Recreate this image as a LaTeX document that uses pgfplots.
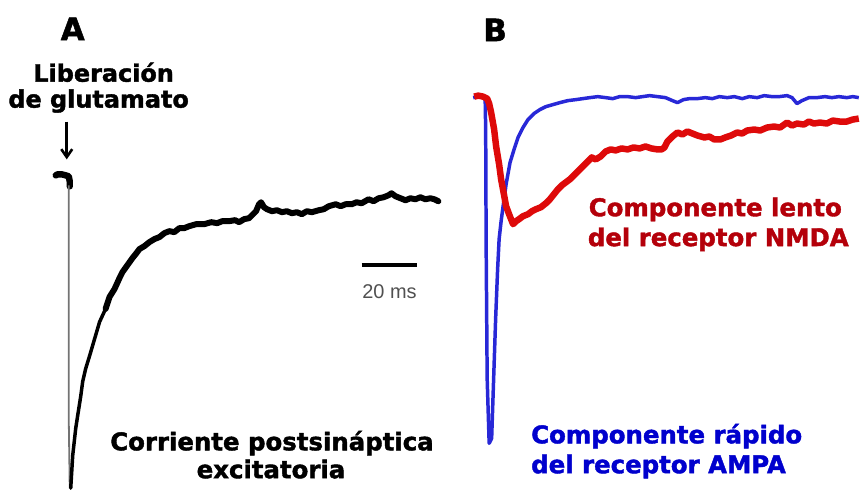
\documentclass[border=0pt]{standalone}
\usepackage{pgfplots}
\pgfplotsset{compat=1.18}
\usetikzlibrary{arrows.meta}
\usepackage{fontspec}
\setmainfont{DejaVu Sans}
\newfontfamily\heavy{DejaVu Sans Bold}[FakeBold=1.6]
\newfontfamily\scalefont{Liberation Sans}

\definecolor{tracered}{RGB}{222,10,10}
\definecolor{traceblue}{RGB}{40,40,215}
\definecolor{labelred}{RGB}{180,0,10}
\definecolor{labelblue}{RGB}{0,0,205}
\definecolor{scalegray}{RGB}{80,80,80}

\begin{document}
\begin{tikzpicture}
\begin{axis}[
  width=862bp, height=492bp, scale only axis,
  xmin=0, xmax=862, ymin=0, ymax=492, y dir=reverse,
  hide axis, clip=false,
]
\path (axis cs:0,0) rectangle (axis cs:862,492);

% panel A: glutamate release -> EPSC
\addplot[black, line width=6.5bp, line join=round, line cap=round] coordinates {
  (56,176)(58,175)(62,175)(66,176)(69,177)(70,182)(70,187)
};
\addplot[black!55, line width=1.8bp] coordinates {
  (69,186)(69,300)(69,420)(70,490)
};
\addplot[black, line width=3.5bp, line join=round, line cap=round] coordinates {
  (71,490)(73,457)(76,430)(78,417)(81,398)(83,383)(86,370)(90,357)(95,340)
  (100,323)(106,310)
};
\addplot[black, line width=6bp, line join=round, line cap=round] coordinates {
  (106,310)(110,298)(115,290)(120,279)(123,273)(128,266)(133,259)
  (137,254)(140,250)(145,247)(150,243)(155,240)(160,238)(165,234)(170,232)
  (175,233)(180,229)(185,229)(190,227)(197,225)(205,225)(212,223)(218,224)
  (223,222)(230,222)(236,221)(240,223)(245,220)(250,219)(253,216)(257,212)
  (260,205)(262,203)(265,208)(268,210)(273,212)(278,211)(283,213)(288,212)
  (293,214)(298,213)(303,215)(308,212)(313,213)(320,211)(325,210)(330,207)
  (337,205)(342,207)(347,205)(353,205)(358,203)(363,204)(370,200)(375,202)
  (380,199)(385,198)(390,196)(393,194)(397,197)(402,199)(407,201)(412,199)
  (417,200)(422,198)(427,200)(432,199)(436,200)(440,202)
};

% panel B: AMPA (fast) and NMDA (slow) components
\addplot[traceblue, line width=3.5bp, line join=round] coordinates {
  (475,98)(480,97)(485,98)(487,100)(487.5,130)(488,250)(489,380)(491,445)
  (493.5,440)(495.5,380)(497.5,320)(499.5,270)(501,240)(503,222)(505,207)(508,185)
  (512,163)(516,150)(520,138)(525,128)(530,120)(536,114)(542,110)(548,107)
  (555,105)(562,103)(570,101)(578,100)(585,99)(592,98)(600,97)(608,98)
  (615,99)(622,97)(630,97)(638,98)(645,97)(652,96)(660,97)(668,98)(675,101)
  (680,103)(686,100)(692,99)(700,99)(708,98)(715,99)(722,97)(730,98)(737,97)
  (745,99)(752,97)(760,98)(767,96)(775,97)(782,97)(790,96)(795,98)(800,104)
  (805,101)(812,98)(820,98)(828,97)(835,98)(842,97)(850,98)(856,97)(862,98)
};
\addplot[tracered, line width=6.5bp, line join=round] coordinates {
  (476,97)(480,96)(485,97)(489,99)(491,104)(493,113)(496,130)(498,147)
  (501,165)(503,180)(506,196)(508,207)(511,215)(513,220)(515,225)(518,222)
  (521,220)(525,217)(530,215)(534,212)(538,210)(543,208)(548,204)(552,200)
  (556,195)(560,190)(564,186)(568,183)(572,180)(576,176)(580,172)(585,167)
  (590,162)(594,158)(598,160)(603,157)(608,152)(613,150)(618,151)(624,149)
  (630,150)(636,148)(642,149)(648,147)(654,149)(660,150)(664,150)(667,148)
  (670,142)(675,137)(680,133)(685,135)(690,132)(695,134)(700,136)(707,138)
  (712,137)(717,140)(723,140)(728,138)(734,136)(740,133)(745,134)(750,131)
  (757,130)(763,131)(770,128)(777,127)(783,128)(790,123)(795,126)(800,124)
  (807,125)(812,122)(817,124)(823,123)(830,124)(836,121)(843,122)(850,122)
  (856,120)(862,119)
};

% scale bar
\addplot[black, line width=4bp] coordinates {(363,266)(419,266)};
\node[anchor=base, text=scalegray, font=\scalefont\fontsize{20bp}{22bp}\selectfont]
  at (axis cs:391,300) {20 ms};

% arrow
\draw[-{Straight Barb[length=8bp,width=11bp]}, line width=2.6bp]
  (axis cs:67,122) -- (axis cs:67,160);

% labels
\node[font=\heavy\fontsize{31bp}{33bp}\selectfont] at (axis cs:73,29) {A};
\node[font=\heavy\fontsize{31bp}{33bp}\selectfont] at (axis cs:497,30) {B};

\node[anchor=base, font=\heavy\fontsize{24bp}{26bp}\selectfont]
  at (axis cs:104,82) {Liberación};
\node[anchor=base, font=\heavy\fontsize{24bp}{26bp}\selectfont]
  at (axis cs:99,108) {de glutamato};

\node[anchor=base, font=\heavy\fontsize{24.5bp}{26bp}\selectfont]
  at (axis cs:273,452) {Corriente postsináptica};
\node[anchor=base, font=\heavy\fontsize{24.5bp}{26bp}\selectfont]
  at (axis cs:272,480) {excitatoria};

\node[anchor=base, text=labelred, font=\heavy\fontsize{24.5bp}{26bp}\selectfont]
  at (axis cs:718,217) {Componente lento};
\node[anchor=base, text=labelred, font=\heavy\fontsize{24.5bp}{26bp}\selectfont]
  at (axis cs:721,247) {del receptor NMDA};

\node[anchor=base west, inner xsep=0pt, text=labelblue, font=\heavy\fontsize{24.5bp}{26bp}\selectfont]
  at (axis cs:533,445) {Componente rápido};
\node[anchor=base west, inner xsep=0pt, text=labelblue, font=\heavy\fontsize{24.5bp}{26bp}\selectfont]
  at (axis cs:533,475) {del receptor AMPA};
\end{axis}
\end{tikzpicture}
\end{document}
